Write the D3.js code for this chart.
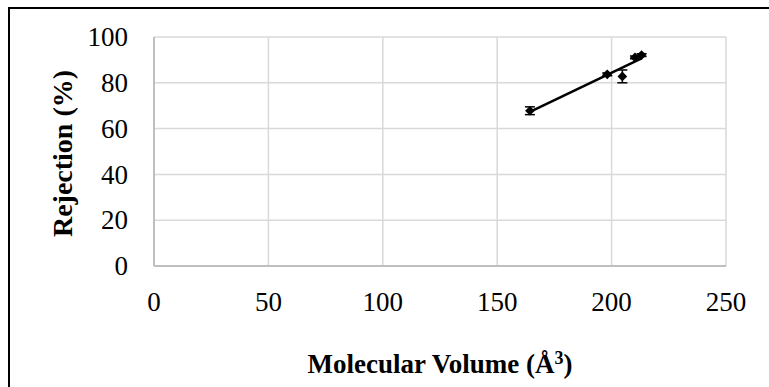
<!DOCTYPE html>
<html>
<head>
<meta charset="utf-8">
<script src="https://cdn.jsdelivr.net/npm/d3@7"></script>
<style>
  body { margin: 0; background: #fff; }
  text { font-family: "Liberation Serif", "Times New Roman", serif; fill: #000; }
</style>
</head>
<body>
<div class="chart"></div>
<script>
// data
const volume = [164.3, 198.1, 204.7, 210.2, 213.1]
const rejection = [67.8, 83.7, 82.8, 91.1, 92.1]
const rejectionErr = [1.7, 0.6, 2.8, 0.6, 0.6]
const xTicks = [0, 50, 100, 150, 200, 250]
const yTicks = [0, 20, 40, 60, 80, 100]

const width = 769
const height = 387
const margin = { top: 37, right: 43, bottom: 121, left: 154 }

const points = volume.map((v, i) => ({ x: v, y: rejection[i], e: rejectionErr[i] }))

// least-squares trend line
const mx = d3.mean(volume), my = d3.mean(rejection)
const slope = d3.sum(points, d => (d.x - mx) * (d.y - my)) / d3.sum(points, d => (d.x - mx) ** 2)
const icpt = my - slope * mx
const ext = d3.extent(volume)
const trend = ext.map(x => ({ x, y: slope * x + icpt }))

const xScale = d3.scaleLinear().domain([0, 250]).range([margin.left, width - margin.right])
const yScale = d3.scaleLinear().domain([0, 100]).range([height - margin.bottom, margin.top])

const svg = d3.select(".chart").append("svg")
    .attr("width", width)
    .attr("height", height)

// chart border (runs off the right and bottom edge)
svg.append("rect")
    .attr("x", 9).attr("y", 8)
    .attr("width", width + 20).attr("height", height + 20)
    .attr("fill", "#fff")
    .attr("stroke", "#000")
    .attr("stroke-width", 2)

// gridlines
svg.append("g")
  .selectAll("line")
  .data(yTicks.filter(d => d > 0))
  .join("line")
    .attr("x1", xScale(0)).attr("x2", xScale(250))
    .attr("y1", d => yScale(d)).attr("y2", d => yScale(d))
    .attr("stroke", "#d9d9d9").attr("stroke-width", 1.5)

svg.append("g")
  .selectAll("line")
  .data(xTicks.filter(d => d > 0))
  .join("line")
    .attr("x1", d => xScale(d)).attr("x2", d => xScale(d))
    .attr("y1", yScale(0)).attr("y2", yScale(100))
    .attr("stroke", "#d9d9d9").attr("stroke-width", 1.5)

// axis lines
svg.append("line")
    .attr("x1", xScale(0)).attr("x2", xScale(0))
    .attr("y1", yScale(0)).attr("y2", yScale(100))
    .attr("stroke", "#bfbfbf").attr("stroke-width", 2)
svg.append("line")
    .attr("x1", xScale(0)).attr("x2", xScale(250))
    .attr("y1", yScale(0)).attr("y2", yScale(0))
    .attr("stroke", "#bfbfbf").attr("stroke-width", 2)

// tick labels
svg.append("g")
  .selectAll("text")
  .data(yTicks)
  .join("text")
    .attr("x", xScale(0) - 26)
    .attr("y", d => yScale(d))
    .attr("dy", "0.34em")
    .attr("text-anchor", "end")
    .style("font-size", "27px")
    .text(d => d)

svg.append("g")
  .selectAll("text")
  .data(xTicks)
  .join("text")
    .attr("x", d => xScale(d))
    .attr("y", 311)
    .attr("text-anchor", "middle")
    .style("font-size", "27px")
    .text(d => d)

// axis titles
svg.append("text")
    .attr("transform", `translate(72, ${(yScale(0) + yScale(100)) / 2 + 2}) rotate(-90)`)
    .attr("text-anchor", "middle")
    .style("font-size", "28px")
    .style("font-weight", "bold")
    .text("Rejection (%)")

const xTitle = svg.append("text")
    .attr("x", (xScale(0) + xScale(250)) / 2)
    .attr("y", 373)
    .attr("text-anchor", "middle")
    .style("font-size", "27px")
    .style("font-weight", "bold")
xTitle.append("tspan").text("Molecular Volume (Å")
xTitle.append("tspan").attr("dy", -9).style("font-size", "18px").text("3")
xTitle.append("tspan").attr("dy", 9).text(")")

// trend line
const line = d3.line().x(d => xScale(d.x)).y(d => yScale(d.y))
svg.append("path")
    .attr("d", line(trend))
    .attr("fill", "none")
    .attr("stroke", "#000")
    .attr("stroke-width", 2.5)

// error bars
const eb = svg.append("g").attr("stroke", "#000").attr("stroke-width", 1.5)
points.forEach(d => {
  const x = xScale(d.x), y1 = yScale(d.y - d.e), y2 = yScale(d.y + d.e)
  eb.append("line").attr("x1", x).attr("x2", x).attr("y1", y1).attr("y2", y2)
  eb.append("line").attr("x1", x - 5).attr("x2", x + 5).attr("y1", y1).attr("y2", y1)
  eb.append("line").attr("x1", x - 5).attr("x2", x + 5).attr("y1", y2).attr("y2", y2)
})

// diamond markers
svg.append("g")
  .selectAll("path")
  .data(points)
  .join("path")
    .attr("d", d3.symbol(d3.symbolDiamond2, 60))
    .attr("transform", d => `translate(${xScale(d.x)}, ${yScale(d.y)})`)
    .attr("fill", "#000")
</script>
</body>
</html>
